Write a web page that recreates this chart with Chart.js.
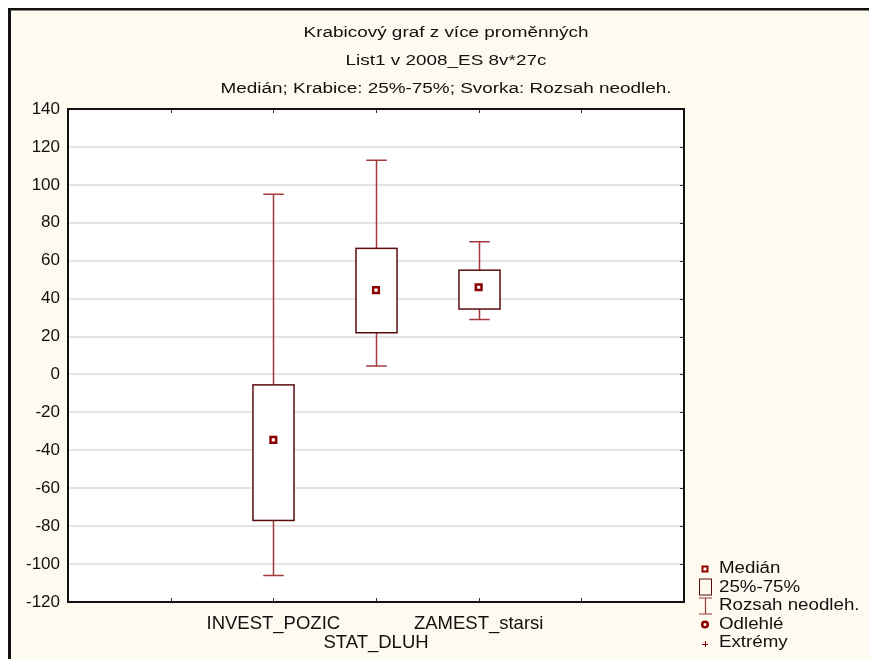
<!DOCTYPE html>
<html>
<head>
<meta charset="utf-8">
<script src="https://cdn.jsdelivr.net/npm/chart.js@4"></script>
<style>
body{margin:0;background:#fff}
</style>
</head>
<body>
<canvas id="boxChart" width="869" height="659"></canvas>
<script>
// variables and their box-plot statistics
const categories = ["INVEST_POZIC","STAT_DLUH","ZAMEST_starsi"];
const whiskerLow = [-106, 4.5, 29];
const quartile1 = [-77, 22, 34.5];
const medians = [-34.5, 44.5, 46];
const quartile3 = [-5.5, 66.5, 55];
const whiskerHigh = [95, 113, 70];

const yMin = -120, yMax = 140, yStep = 20;

const titleLines = [
    "Krabicový graf z více proměnných",
    "List1 v 2008_ES 8v*27c",
    "Medián; Krabice: 25%-75%; Svorka: Rozsah neodleh."
];
const legendItems = ["Medián","25%-75%","Rozsah neodleh.","Odlehlé","Extrémy"];

const DARK_RED = "#8b0000";
const WHISKER = "#a23a3a";
const BOX_LINE = "#5a0c0c";
const FONT = "'Liberation Sans', Arial, sans-serif";

// text drawn a little wider than the font's natural width
function wideText(ctx,text,x,y,sx){
    ctx.save();
    ctx.translate(x,y);
    ctx.scale(sx,1);
    ctx.fillText(text,0,0);
    ctx.restore();
}

function medianMarker(ctx,x,y){
    ctx.fillStyle = DARK_RED;
    ctx.fillRect(x-3.5,y-3.5,7,7);
    ctx.fillStyle = "#fff";
    ctx.fillRect(x-1.5,y-1.5,3,3);
}

const boxPlugin = {
    id:"boxPlot",
    beforeDraw(chart){
        const ctx = chart.ctx, a = chart.chartArea;
        ctx.save();
        ctx.fillStyle = "#fff";
        ctx.fillRect(0,0,chart.width,chart.height);
        ctx.fillStyle = "#fffaef";
        ctx.fillRect(9,9,chart.width,chart.height);
        ctx.fillStyle = "#111";
        ctx.fillRect(8,8,chart.width,2.5);
        ctx.fillRect(8,8,3,chart.height);
        ctx.fillStyle = "#fff";
        ctx.fillRect(a.left,a.top,a.right-a.left,a.bottom-a.top);
        ctx.restore();
    },
    beforeDatasetsDraw(chart){
        const ctx = chart.ctx;
        const xs = chart.scales.x, ys = chart.scales.y;
        const unit = xs.getPixelForValue(1) - xs.getPixelForValue(0);
        const boxHalf = unit*0.2, capHalf = unit*0.1;
        ctx.save();
        categories.forEach((c,i) => {
            const x = Math.round(xs.getPixelForValue(i)) + 0.5;
            const yLo = ys.getPixelForValue(whiskerLow[i]);
            const yQ1 = ys.getPixelForValue(quartile1[i]);
            const yQ3 = ys.getPixelForValue(quartile3[i]);
            const yHi = ys.getPixelForValue(whiskerHigh[i]);

            ctx.strokeStyle = WHISKER;
            ctx.lineWidth = 1.5;
            ctx.beginPath();
            ctx.moveTo(x,yHi); ctx.lineTo(x,yQ3);
            ctx.moveTo(x,yQ1); ctx.lineTo(x,yLo);
            ctx.moveTo(x-capHalf,yHi); ctx.lineTo(x+capHalf,yHi);
            ctx.moveTo(x-capHalf,yLo); ctx.lineTo(x+capHalf,yLo);
            ctx.stroke();

            ctx.fillStyle = "#fff";
            ctx.fillRect(x-boxHalf,yQ3,boxHalf*2,yQ1-yQ3);
            ctx.strokeStyle = BOX_LINE;
            ctx.lineWidth = 1.5;
            ctx.strokeRect(x-boxHalf,yQ3,boxHalf*2,yQ1-yQ3);
        });
        ctx.restore();
    },
    afterDatasetsDraw(chart){
        const ctx = chart.ctx, a = chart.chartArea;
        const xs = chart.scales.x, ys = chart.scales.y;
        ctx.save();
        // inward tick marks
        ctx.strokeStyle = "#333";
        ctx.lineWidth = 1;
        ctx.beginPath();
        xs.ticks.forEach(t => {
            if(t.value <= xs.min || t.value >= xs.max) return;
            const x = Math.round(xs.getPixelForValue(t.value)) + 0.5;
            ctx.moveTo(x,a.top); ctx.lineTo(x,a.top+4);
            ctx.moveTo(x,a.bottom); ctx.lineTo(x,a.bottom-4);
        });
        ys.ticks.forEach(t => {
            if(t.value <= ys.min || t.value >= ys.max) return;
            const y = Math.round(ys.getPixelForValue(t.value)) + 0.5;
            ctx.moveTo(a.right,y); ctx.lineTo(a.right-4,y);
        });
        ctx.stroke();
        // plot frame
        ctx.strokeStyle = "#111";
        ctx.lineWidth = 2;
        ctx.strokeRect(a.left,a.top,a.right-a.left,a.bottom-a.top);
        ctx.restore();
    },
    afterDraw(chart){
        const ctx = chart.ctx;
        ctx.save();
        // titles
        ctx.fillStyle = "#111";
        ctx.font = "15.5px " + FONT;
        ctx.textAlign = "center";
        ctx.textBaseline = "middle";
        titleLines.forEach((t,i) => wideText(ctx,t,446,33+i*28,1.22));

        // legend
        const mx = 705, tx = 719, y0 = 569, dy = 18.5;
        ctx.textAlign = "left";
        ctx.font = "16px " + FONT;
        legendItems.forEach((t,i) => wideText(ctx,t,tx,y0+i*dy,1.17));

        medianMarker(ctx,mx,y0);

        let y = y0+dy;
        ctx.strokeStyle = BOX_LINE;
        ctx.lineWidth = 1;
        ctx.strokeRect(mx-5.5,y-8.5,12,16);

        y = y0+2*dy;
        ctx.strokeStyle = WHISKER;
        ctx.lineWidth = 1.2;
        ctx.beginPath();
        ctx.moveTo(mx-6,y-8); ctx.lineTo(mx+7,y-8);
        ctx.moveTo(mx+0.5,y-8); ctx.lineTo(mx+0.5,y+8);
        ctx.moveTo(mx-6,y+8); ctx.lineTo(mx+7,y+8);
        ctx.stroke();

        y = y0+3*dy;
        ctx.strokeStyle = DARK_RED;
        ctx.lineWidth = 2.5;
        ctx.beginPath();
        ctx.arc(mx,y,2.8,0,Math.PI*2);
        ctx.stroke();

        y = y0+4*dy+1;
        ctx.lineWidth = 1;
        ctx.beginPath();
        ctx.moveTo(mx-3,y+0.5); ctx.lineTo(mx+3,y+0.5);
        ctx.moveTo(mx+0.5,y-3); ctx.lineTo(mx+0.5,y+3);
        ctx.stroke();
        ctx.restore();
    }
};

new Chart(document.getElementById("boxChart"),{
    type:"scatter",
    data:{
        datasets:[{
            label:"Medián",
            data:medians.map((m,i) => ({x:i,y:m})),
            pointStyle:"rect",
            pointRadius:4,
            pointHoverRadius:4,
            backgroundColor:"#fff",
            borderColor:DARK_RED,
            borderWidth:2.5
        }]
    },
    options:{
        responsive:false,
        animation:false,
        events:[],
        layout:{padding:{top:109,right:185,left:0,bottom:0}},
        plugins:{
            legend:{display:false},
            title:{display:false},
            tooltip:{enabled:false}
        },
        scales:{
            x:{
                type:"linear",
                min:-2,
                max:categories.length+1,
                grid:{display:false},
                border:{display:false},
                afterFit(scale){ scale.height = 57; },
                ticks:{
                    stepSize:1,
                    autoSkip:false,
                    maxRotation:0,
                    padding:4,
                    color:"#111",
                    font:{family:FONT,size:18.5,lineHeight:1.03},
                    callback(v){
                        const label = categories[v];
                        if(label === undefined) return "";
                        return v % 2 === 1 ? ["",label] : label;
                    }
                }
            },
            y:{
                min:yMin,
                max:yMax,
                border:{display:false},
                grid:{color:"#e4e4e4",lineWidth:2,drawTicks:false},
                afterFit(scale){ scale.width = 68; },
                ticks:{
                    stepSize:yStep,
                    padding:8,
                    color:"#111",
                    font:{family:FONT,size:17}
                }
            }
        }
    },
    plugins:[boxPlugin]
});
</script>
</body>
</html>
